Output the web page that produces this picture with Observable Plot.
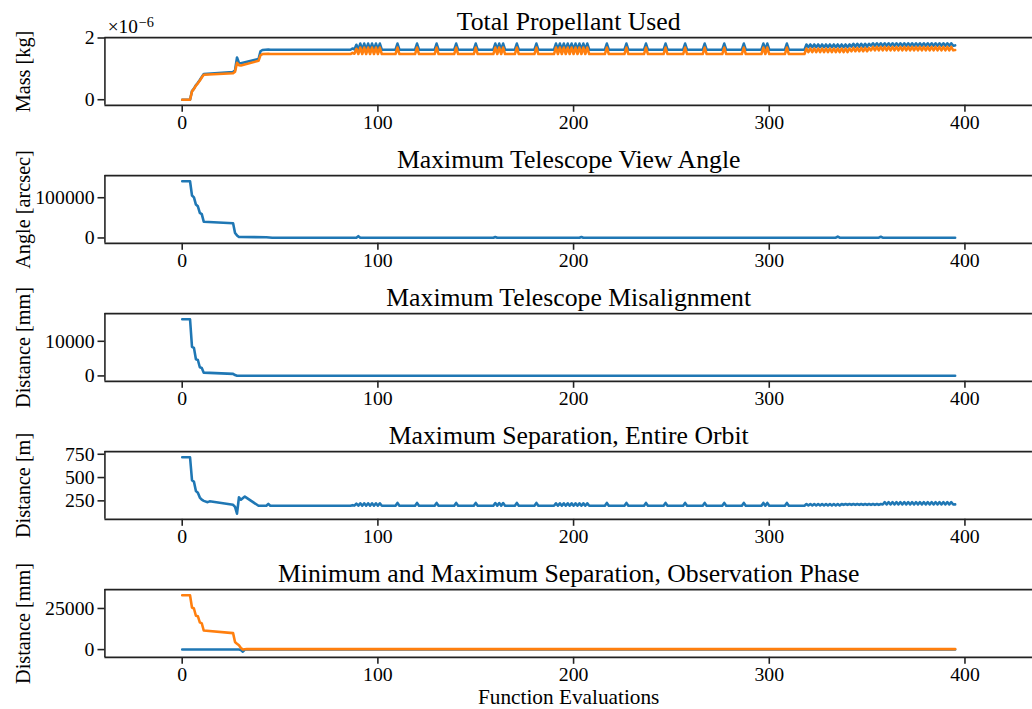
<!DOCTYPE html>
<html><head><meta charset="utf-8">
<script src="https://cdn.jsdelivr.net/npm/d3@7"></script>
<script src="https://cdn.jsdelivr.net/npm/@observablehq/plot@0.6"></script>
<style>
html,body{margin:0;padding:0;background:#fff;overflow:hidden;width:1032px;height:709px;}
#chart{position:relative;width:1032px;height:709px;overflow:hidden;}
#chart svg{position:absolute;left:0;}
</style></head><body><div id="chart"></div>
<script>
// ---------------- data ----------------
const evalTicks = [0, 100, 200, 300, 400];

// Total propellant used (x 1e-6 kg), early segment
const propEarlyEvals = [0,4,5,6,7,8,9,10,11,26,27,28,29,30,39,40,41,44,45];
const propA_early = [0,0,0.28,0.36,0.47,0.55,0.64,0.74,0.83,0.90,0.96,1.37,1.19,1.18,1.32,1.57,1.61,1.63,1.62];
const propB_early = [0,0,0.27,0.35,0.46,0.53,0.62,0.72,0.81,0.86,0.91,1.20,1.12,1.11,1.26,1.44,1.48,1.49,1.48];

// shared evaluation breakpoints for the late (oscillating) segment
const lateEvals = [
86,87,88,89,90,91,92,93,94,95,96,97,98,99,100,101,102,
109,110,111,119,120,121,129,130,131,139,140,141,149,150,151,
159,160,161,162,163,164,165,
170,171,172,180,181,182,
190,191,192,193,194,195,196,197,198,199,200,201,202,203,204,205,206,207,208,
216,217,218,226,227,228,236,237,238,246,247,248,256,257,258,266,267,268,276,277,278,286,287,288,
296,297,298,299,300,
308,309,310,
318,319,320,321,322,323,324,325,326,327,328,329,330,331,332,333,334,335,336,337,338,339,340,341,342,343,344,345,346,347,348,349,350,351,352,353,354,355,356,357,358,359,360,361,362,363,364,365,366,367,368,369,370,371,372,373,374,375,376,377,378,379,380,381,382,383,384,385,386,387,388,389,390,391,392,393,394,395
];

const propA_late = [
1.62,1.66,1.63,1.78,1.62,1.82,1.62,1.82,1.62,1.82,1.62,1.82,1.62,1.82,1.62,1.82,1.62,
1.62,1.82,1.62,1.62,1.82,1.62,1.62,1.82,1.62,1.62,1.82,1.62,1.62,1.82,1.62,
1.62,1.82,1.62,1.82,1.62,1.82,1.62,
1.62,1.82,1.62,1.62,1.82,1.62,
1.62,1.82,1.62,1.82,1.62,1.82,1.62,1.82,1.62,1.82,1.62,1.82,1.62,1.82,1.62,1.82,1.62,1.82,1.62,
1.62,1.82,1.62,1.62,1.82,1.62,1.62,1.82,1.62,1.62,1.82,1.62,1.62,1.82,1.62,1.62,1.82,1.62,1.62,1.82,1.62,1.62,1.82,1.62,
1.62,1.82,1.62,1.82,1.62,
1.62,1.82,1.62,
1.62,
1.79,1.70,1.79,1.70,1.79,1.70,1.79,1.70,1.79,1.70,1.79,1.70,1.79,1.70,1.79,1.70,1.79,1.70,1.79,1.70,1.79,1.70,1.79,
1.72,1.81,1.72,1.81,1.72,1.81,1.72,1.81,1.72,1.81,
1.75,1.83,1.75,1.83,1.75,1.83,1.75,1.83,1.75,1.83,1.75,1.83,1.75,1.83,1.75,1.83,1.75,1.83,1.75,1.83,1.75,1.83,1.75,1.83,1.75,1.83,1.75,1.83,1.75,1.83,1.75,1.83,1.75,1.83,1.75,1.83,1.75,1.83,1.75,1.83,1.75,1.83,1.75,
1.76
];

const propB_late = [
1.48,1.52,1.49,1.65,1.48,1.69,1.48,1.69,1.48,1.69,1.48,1.69,1.48,1.69,1.48,1.69,1.48,
1.48,1.69,1.48,1.48,1.69,1.48,1.48,1.69,1.48,1.48,1.69,1.48,1.48,1.69,1.48,
1.48,1.69,1.48,1.69,1.48,1.69,1.48,
1.48,1.69,1.48,1.48,1.69,1.48,
1.48,1.69,1.48,1.69,1.48,1.69,1.48,1.69,1.48,1.69,1.48,1.69,1.48,1.69,1.48,1.69,1.48,1.69,1.48,
1.48,1.69,1.48,1.48,1.69,1.48,1.48,1.69,1.48,1.48,1.69,1.48,1.48,1.69,1.48,1.48,1.69,1.48,1.48,1.69,1.48,1.48,1.69,1.48,
1.48,1.69,1.48,1.69,1.48,
1.48,1.69,1.48,
1.48,
1.66,1.54,1.66,1.54,1.66,1.54,1.66,1.54,1.66,1.54,1.66,1.54,1.66,1.54,1.66,1.54,1.66,1.54,1.66,1.54,1.66,1.54,1.66,
1.57,1.68,1.57,1.68,1.57,1.68,1.57,1.68,1.57,1.68,
1.60,1.71,1.60,1.71,1.60,1.71,1.60,1.71,1.60,1.71,1.60,1.71,1.60,1.71,1.60,1.71,1.60,1.71,1.60,1.71,1.60,1.71,1.60,1.71,1.60,1.71,1.60,1.71,1.60,1.71,1.60,1.71,1.60,1.71,1.60,1.71,1.60,1.71,1.60,1.71,1.60,1.71,1.60,
1.61
];

// Maximum telescope view angle (arcsec)
const angleEvals = [0,4,5,6,7,8,9,10,11,26,27,28,29,30,43,46,89,90,91,159,160,161,203,204,205,334,335,336,356,357,358,395];
const angleVals = [141000,141000,105600,101000,83000,78800,62400,59300,40500,36600,12200,6300,2400,2400,1900,600,600,4500,600,600,2500,600,600,2500,600,600,3500,600,600,3000,600,600];

// Maximum telescope misalignment (mm)
const misEvals = [0,4,5,6,7,8,9,10,11,26,27,28,395];
const misVals = [16370,16370,8400,8100,4800,4600,2500,2300,950,600,250,60,60];

// Maximum separation, entire orbit (m)
const sepEarlyEvals = [0,4,5,6,7,8,9,10,11,13,14,26,27,28,29,30,32,39,43,44,45];
const sep_early = [718,718,472,454,356,338,285,262,250,236,245,208,185,112,289,262,296,197,198,218,198];
const sep_late = [
198,204,199,220,198,224,198,224,198,224,198,224,198,224,198,224,198,
198,228,198,198,228,198,198,228,198,198,228,198,198,228,198,
198,226,198,226,198,226,198,
198,228,198,198,228,198,
198,224,198,224,198,224,198,224,198,224,198,224,198,224,198,224,198,224,198,
198,228,198,198,228,198,198,228,198,198,228,198,198,228,198,198,228,198,198,228,198,198,228,198,
198,228,198,228,198,
198,228,198,
198,
216,200,216,200,216,200,216,200,216,200,216,200,216,200,216,200,216,200,216,
206,216,206,216,206,216,206,216,206,216,206,216,206,216,206,216,206,216,206,216,
211,236,211,236,211,236,211,236,211,236,211,236,211,236,211,236,211,236,211,236,211,236,211,236,211,236,211,236,211,236,211,236,211,236,211,236,211,
212
];

// Min / max separation, observation phase (mm)
const obsMinEvals = [0,29,30,31,32,40,395];
const obsMinVals = [0,0,-300,-1300,0,100,100];
const obsMaxEvals = [0,4,5,6,7,8,9,10,11,26,27,28,29,30,31,33,395];
const obsMaxVals = [33050,33050,25600,25000,20600,20300,16600,16000,11600,10000,4600,3500,2600,1000,0,300,300];

// ---------------- drawing ----------------
const FONT = '"Liberation Serif","Times New Roman",serif';
const BLUE = "#1f77b4", ORANGE = "#ff7f0e", SPINE = "#222";

const panels = [
  {title: "Total Propellant Used", ylabel: "Mass [kg]", ticks: [0, 2], exponent: true,
   series: [{name: "a", x: propEarlyEvals.concat(lateEvals), y: propA_early.concat(propA_late), color: BLUE},
            {name: "b", x: propEarlyEvals.concat(lateEvals), y: propB_early.concat(propB_late), color: ORANGE}]},
  {title: "Maximum Telescope View Angle", ylabel: "Angle [arcsec]", ticks: [0, 100000],
   series: [{name: "a", x: angleEvals, y: angleVals, color: BLUE}]},
  {title: "Maximum Telescope Misalignment", ylabel: "Distance [mm]", ticks: [0, 10000],
   series: [{name: "a", x: misEvals, y: misVals, color: BLUE}]},
  {title: "Maximum Separation, Entire Orbit", ylabel: "Distance [m]", ticks: [250, 500, 750],
   series: [{name: "a", x: sepEarlyEvals.concat(lateEvals), y: sep_early.concat(sep_late), color: BLUE}]},
  {title: "Minimum and Maximum Separation, Observation Phase", ylabel: "Distance [mm]", ticks: [0, 25000], xlabel: "Function Evaluations",
   series: [{name: "min", x: obsMinEvals, y: obsMinVals, color: BLUE},
            {name: "max", x: obsMaxEvals, y: obsMaxVals, color: ORANGE}]}
];

const STEP = 137.9, MT = 37.5, FH = 68.5;
const container = document.getElementById("chart");

panels.forEach((p, i) => {
  const rows = [];
  p.series.forEach(s => s.x.forEach((x, j) => rows.push({ev: x, value: s.y[j], name: s.name})));
  const xe = d3.extent(rows, d => d.ev), ye = d3.extent(rows, d => d.value);
  const xDom = [xe[0] - 0.1 * (xe[1] - xe[0]), xe[1] + 0.1 * (xe[1] - xe[0])];
  const yDom = [ye[0] - 0.1 * (ye[1] - ye[0]), ye[1] + 0.1 * (ye[1] - ye[0])];
  const top = i * STEP;
  const last = i === panels.length - 1;
  const height = last ? 709 - top : 138;
  const mb = height - MT - FH;
  const marks = [
    Plot.ruleY(yDom, {y: d => d, stroke: SPINE, strokeWidth: 1.6}),
    Plot.ruleX([xDom[0]], {x: d => d, stroke: SPINE, strokeWidth: 1.6}),
    Plot.axisY({ticks: p.ticks, tickSize: 7, tickPadding: 3.5, tickFormat: d3.format("d"), label: null, fontSize: 20, stroke: SPINE, strokeWidth: 1.6}),
    Plot.axisX({ticks: evalTicks, tickSize: 7, tickPadding: 2.5, tickFormat: d3.format("d"), label: null, fontSize: 20, stroke: SPINE, strokeWidth: 1.6}),
    ...p.series.map(s => Plot.line(rows.filter(d => d.name === s.name), {x: "ev", y: "value", stroke: s.color, strokeWidth: 2.6, strokeLinejoin: "round"})),
    Plot.text([p.title], {text: d => d, frameAnchor: "top", lineAnchor: "middle", textAnchor: "middle", dy: -15.8, fontSize: 26, fill: "black"}),
    Plot.text([p.ylabel], {text: d => d, frameAnchor: "left", lineAnchor: "middle", textAnchor: "middle", rotate: -90, dx: -82, fontSize: 20.5, fill: "black"})
  ];
  if (p.exponent) {
    marks.push(Plot.text(["×10"], {text: d => d, frameAnchor: "top-left", lineAnchor: "middle", textAnchor: "start", dx: 2.8, dy: -10.5, fontSize: 19.5, fill: "black"}));
    marks.push(Plot.text(["−6"], {text: d => d, frameAnchor: "top-left", lineAnchor: "middle", textAnchor: "start", dx: 34, dy: -15, fontSize: 14.5, fill: "black"}));
  }
  if (p.xlabel) {
    marks.push(Plot.text([p.xlabel], {text: d => d, frameAnchor: "bottom", lineAnchor: "middle", textAnchor: "middle", dy: 40, fontSize: 21.5, fill: "black"}));
  }
  const svg = Plot.plot({
    width: 1043, height,
    marginLeft: 105.5, marginRight: 0, marginTop: MT, marginBottom: mb,
    x: {domain: xDom},
    y: {domain: yDom},
    style: {fontFamily: FONT, fontSize: "20px", color: "black", background: "transparent", overflow: "visible"},
    marks
  });
  svg.style.top = top + "px";
  container.appendChild(svg);
});
</script>
</body></html>
